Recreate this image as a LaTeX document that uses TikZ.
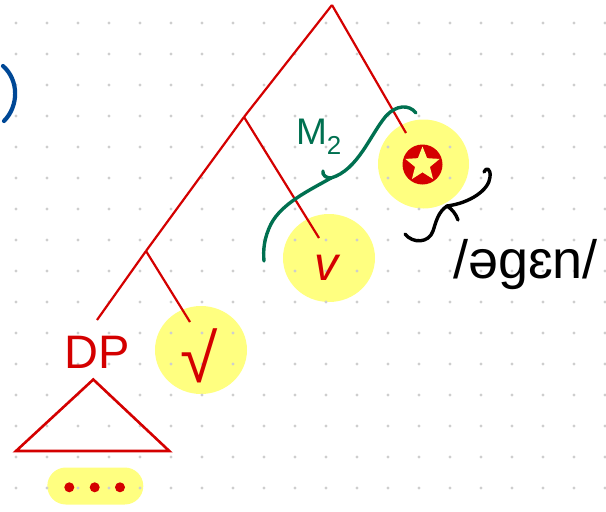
\documentclass[tikz,border=0pt]{standalone}
\usepackage{fontspec}
\setmainfont{Liberation Sans}
\usepackage{xcolor}
\definecolor{treered}{RGB}{212, 0, 0}
\definecolor{hiyellow}{RGB}{255, 255, 128}
\definecolor{inkgreen}{RGB}{0, 112, 80}
\definecolor{inkblue}{RGB}{0, 72, 150}
\definecolor{dotgrey}{RGB}{206, 206, 206}
\usetikzlibrary{shapes.geometric, positioning}

\begin{document}
\begin{tikzpicture}[x=1pt, y=-1pt,
  branch/.style={draw=treered, line width=2.2pt},
  hilite/.style={ellipse, fill=hiyellow, inner sep=0pt, minimum width=92pt, minimum height=88pt},
  leaf/.style={text=treered, inner sep=0pt},
  brush/.style={line width=3.4pt, line cap=round, line join=round}]
\useasboundingbox (0,0) rectangle (606,512);

% markers
\node[hilite] (hl-root) at (201,350) {};
\node[hilite] (hl-v) at (329,258) {};
\node[hilite, minimum width=91pt, minimum height=89pt] (hl-mark) at (423.5,164) {};
\node[fill=hiyellow, rounded corners=18.5pt, minimum width=96pt, minimum height=37pt, inner sep=0pt] (hl-dots) at (95.3,486) {};

% dot grid
\foreach \i in {0,...,19}
  \foreach \j in {0,...,15}
    \fill[dotgrey] (16+31*\i, 23+31*\j) circle (1.6pt);

% tree
\coordinate (top) at (332,5);
\coordinate (j1) at (244,117);
\coordinate (j2) at (146,251);
\coordinate (dp-end) at (97,320);
\coordinate (root-end) at (190,322);
\coordinate (v-end) at (319,238);
\coordinate (mark-end) at (406,133);

\node[leaf, anchor=base, font=\fontsize{47}{52}\selectfont] (dp) at (97,368) {DP};
\node[leaf, font=\fontsize{68}{72}\selectfont] (root) at (199,356) {√};
\node[leaf, anchor=base, font=\fontsize{48}{54}\selectfont\itshape] (lv) at (326,280) {v};
\node[circle, fill=treered, minimum size=40pt, inner sep=0pt] (mark) at (422.5,164.5) {};
\node[star, star points=5, star point ratio=2.3, fill=hiyellow, minimum size=36pt, inner sep=0pt] (mark-star) at (mark.center) {};

\draw[branch] (top) -- (j1);
\draw[branch] (j1) -- (j2);
\draw[branch] (j2) -- (dp-end);
\draw[branch] (top) -- (mark-end);
\draw[branch] (j1) -- (v-end);
\draw[branch] (j2) -- (root-end);

% DP triangle
\coordinate (tri-top) at (93.3,379.5);
\coordinate (tri-l) at (16,451);
\coordinate (tri-r) at (169.3,451);
\draw[branch, line width=2.6pt, line join=miter] (tri-top) -- (tri-l) -- (tri-r) -- cycle;

% dots
\foreach \x in {69.3, 94.7, 120}
  \fill[treered] (\x,487.3) circle (5pt);

% M2 brace
\draw[brush, inkgreen] (416,113) .. controls (409,104) and (396,105) .. (386,116)
  .. controls (370,135) and (358,170) .. (331,178)
  .. controls (326,178) and (322,175) .. (323,171);
\draw[brush, inkgreen] (331,178) .. controls (310,190) and (282,203) .. (271,224)
  .. controls (264,238) and (263,250) .. (264,261);
\node[text=inkgreen, font=\fontsize{37}{40}\selectfont, inner sep=0pt] (m2) at (319,137) {M\textsubscript{2}};

% exponent brace
\draw[brush, black] (484,172) .. controls (486,167) and (491,168) .. (490,177)
  .. controls (489,190) and (470,203) .. (447,206);
\draw[brush, black] (447,206) .. controls (452,209) and (456,214) .. (458,220);
\draw[brush, black] (447,206) .. controls (438,212) and (436,222) .. (433,231)
  .. controls (429,243) and (413,244) .. (405,234);
\node[anchor=base, font=\fontsize{54}{60}\selectfont, inner sep=0pt] (form) at (525.5,278) {/əgɛn/};

% paren
\draw[inkblue, line width=4.2pt, line cap=round] (3,66) .. controls (19,80) and (19,106) .. (4,121);
\end{tikzpicture}
\end{document}
